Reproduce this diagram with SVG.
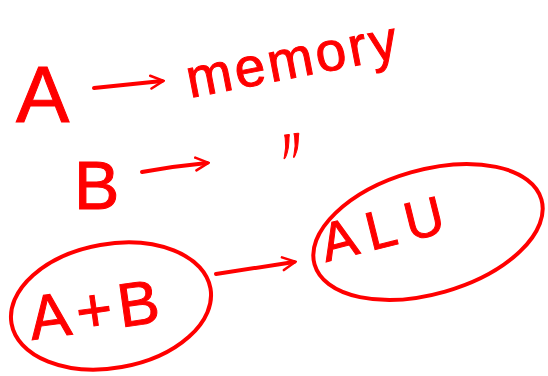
<svg xmlns="http://www.w3.org/2000/svg" width="548" height="376" viewBox="0 0 548 376">
<style>
.t{font-family:"Liberation Sans",Arial,sans-serif;fill:#ff0000;stroke:#ff0000;stroke-width:1}
.ln{fill:none;stroke:#ff0000;stroke-width:4;stroke-linecap:round}
.el{fill:none;stroke:#ff0000;stroke-width:4}
</style>
<defs>
<marker id="ah" viewBox="0 0 10 10" refX="8" refY="5" markerWidth="4" markerHeight="4" orient="auto" markerUnits="strokeWidth">
<path d="M1,1 L9,5 L1,9" fill="none" stroke="#ff0000" stroke-width="1.6" stroke-linecap="round"/>
</marker>
</defs>
<rect width="548" height="376" fill="#ffffff"/>
<g id="nodeA"><text class="t" x="16" y="122" font-size="80">A</text></g>
<g id="nodeMemory"><text class="t" x="190" y="98" font-size="55" letter-spacing="3" transform="rotate(-11 190 98)">memory</text></g>
<g id="nodeB"><text class="t" x="74" y="209" font-size="68">B</text></g>
<g id="ditto"><text class="t" x="270" y="166" font-size="48" transform="rotate(-8 270 166)">〃</text></g>
<g id="nodeAplusB">
<ellipse class="el" cx="111" cy="306" rx="101" ry="62" transform="rotate(-10 111 306)"/>
<text class="t" x="32" y="340" font-size="62" letter-spacing="6" transform="rotate(-8 32 340)">A+B</text>
</g>
<g id="nodeALU">
<ellipse class="el" cx="428" cy="232" rx="118" ry="62" transform="rotate(-16 428 232)"/>
<text class="t" x="326" y="262" font-size="54" letter-spacing="10" transform="rotate(-14 326 262)">ALU</text>
</g>
<g id="connectors">
<path class="ln" d="M94,88 L162,81" marker-end="url(#ah)"/>
<path class="ln" d="M142,172 Q175,166 207,163" marker-end="url(#ah)"/>
<path class="ln" d="M216,274 Q255,268 294,262" marker-end="url(#ah)"/>
</g>
</svg>
